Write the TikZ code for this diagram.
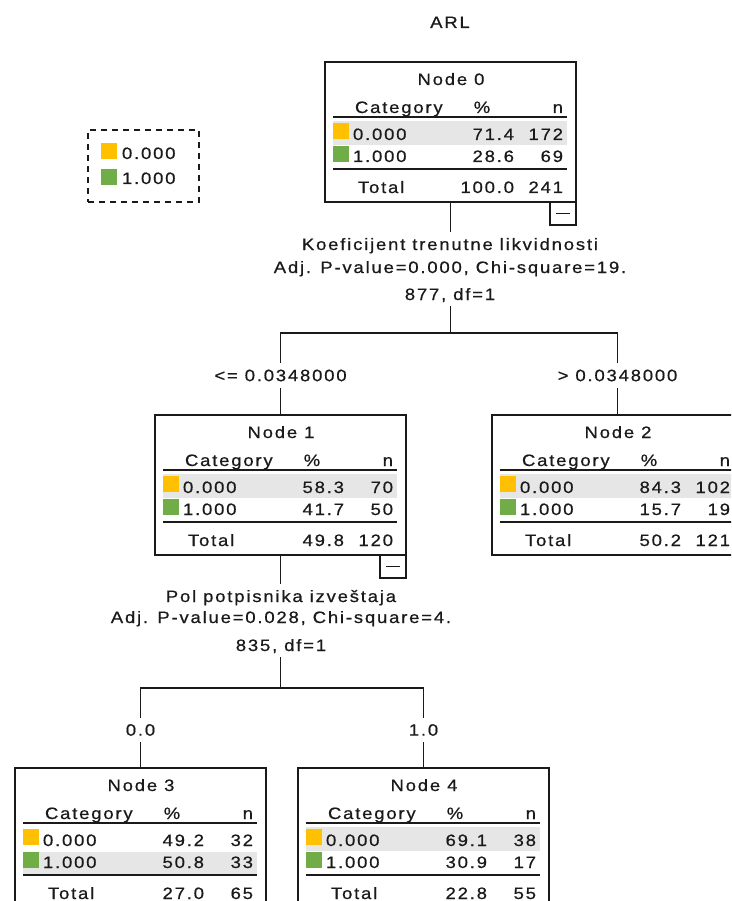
\documentclass[tikz,border=0pt]{standalone}
\usepackage{fontspec}
\setmainfont{Liberation Sans}[FakeStretch=1.12,LetterSpace=11,FakeBold=0.6]
\definecolor{catA}{HTML}{FFC000}
\definecolor{catB}{HTML}{70AD47}
\definecolor{bandgray}{HTML}{E6E6E6}
\definecolor{ink}{HTML}{1A1A1A}
\tikzset{
  txt/.style={inner sep=0pt, outer sep=0pt, font=\fontsize{16.5}{19}\selectfont, text=ink},
  tbox/.style={draw=ink, line width=1.7pt, inner sep=0pt, outer sep=0pt, minimum width=251pt, minimum height=140pt, anchor=north west},
  rule/.style={draw=ink, line width=2pt},
  edge/.style={draw=ink, line width=1.7pt},
  elabel/.style={txt, minimum height=25pt},
  minusbox/.style={draw=ink, line width=1.7pt, inner sep=0pt, outer sep=0pt, minimum width=26pt, minimum height=23pt, anchor=north east},
}
\newcommand{\bandrow}{1}
\newcommand{\cattable}[9]{%
  \begin{scope}[shift={(#2)}]
    \ifnum\bandrow=1 \fill[bandgray] (8,59) rectangle (242,83);
    \else \fill[bandgray] (8,84) rectangle (242,106); \fi
    \node[tbox] (#1) at (0,0) {};
    \node[txt, anchor=base] (#1-title) at (126,23) {#3};
    \node[txt, anchor=base west] (#1-cat) at (30,51) {Category};
    \node[txt, anchor=base] (#1-pct) at (157,51) {\%};
    \node[txt, anchor=base east] (#1-n) at (238,51) {n};
    \draw[rule] (8,55) -- (242,55);
    \fill[catA] (8,61) rectangle (24,77);
    \node[txt, anchor=base west] (#1-a) at (28,78) {0.000};
    \node[txt, anchor=base east] (#1-ap) at (189,78) {#4};
    \node[txt, anchor=base east] (#1-an) at (238,78) {#5};
    \fill[catB] (8,84) rectangle (24,100);
    \node[txt, anchor=base west] (#1-b) at (28,100) {1.000};
    \node[txt, anchor=base east] (#1-bp) at (189,100) {#6};
    \node[txt, anchor=base east] (#1-bn) at (238,100) {#7};
    \draw[rule] (8,107) -- (242,107);
    \node[txt, anchor=base west] (#1-tot) at (33,131) {Total};
    \node[txt, anchor=base east] (#1-tp) at (189,131) {#8};
    \node[txt, anchor=base east] (#1-tn) at (238,131) {#9};
  \end{scope}}
\newcommand{\collapse}[1]{%
  \node[minusbox] (#1-m) at (#1.south east) {};
  \draw[edge] ([xshift=-7pt]#1-m.center) -- ([xshift=7pt]#1-m.center);}
\begin{document}
\begin{tikzpicture}[x=1pt,y=-1pt]
\useasboundingbox (0,0) rectangle (731,901);
\fill[white] (0,0) rectangle (731,901);
\clip (0,0) rectangle (731,901);

\node[txt, anchor=base] (title) at (450,28) {ARL};

% legend
\node[draw=ink, dash pattern=on 6pt off 5pt, line width=1.5pt, inner sep=0pt, outer sep=0pt,
      minimum width=111pt, minimum height=72pt, anchor=north west] (legend) at (88,130) {};
\fill[catA] (101,143) rectangle (117,159);
\fill[catB] (101,169) rectangle (117,185);
\node[txt, anchor=base west] (legA) at (122,159) {0.000};
\node[txt, anchor=base west] (legB) at (122,184) {1.000};

% nodes
\cattable{n0}{325,62}{Node 0}{71.4}{172}{28.6}{69}{100.0}{241}
\collapse{n0}
\cattable{n1}{155,415}{Node 1}{58.3}{70}{41.7}{50}{49.8}{120}
\collapse{n1}
\cattable{n2}{492,415}{Node 2}{84.3}{102}{15.7}{19}{50.2}{121}
\renewcommand{\bandrow}{2}
\cattable{n3}{15,768}{Node 3}{49.2}{32}{50.8}{33}{27.0}{65}
\renewcommand{\bandrow}{1}
\cattable{n4}{298,768}{Node 4}{69.1}{38}{30.9}{17}{22.8}{55}

% split of node 0
\node[txt, anchor=base] (s0a) at (450,250) {Koeficijent trenutne likvidnosti};
\node[txt, anchor=base] (s0b) at (450,273) {Adj. P-value=0.000, Chi-square=19.};
\node[txt, anchor=base] (s0c) at (450,300) {877, df=1};
\coordinate (j0) at (450.5,333);
\draw[edge] (n0.south) -- ([yshift=6pt]s0a.north -| n0.south);
\draw[edge] ([yshift=-4pt]s0c.south -| n0.south) -- (j0);
\node[elabel] (e1) at (280.5,375.5) {<= 0.0348000};
\node[elabel] (e2) at (617.5,375.5) {> 0.0348000};
\draw[edge] (e1.north) |- (j0) -| (e2.north);
\draw[edge] (e1.south) -- (n1.north);
\draw[edge] (e2.south) -- (n2.north);

% split of node 1
\node[txt, anchor=base] (s1a) at (281,602) {Pol potpisnika izveštaja};
\node[txt, anchor=base] (s1b) at (281,623) {Adj. P-value=0.028, Chi-square=4.};
\node[txt, anchor=base] (s1c) at (281,651) {835, df=1};
\coordinate (j1) at (280.5,688);
\draw[edge] (n1.south) -- ([yshift=6pt]s1a.north -| n1.south);
\draw[edge] ([yshift=-4pt]s1c.south -| n1.south) -- (j1);
\node[elabel, minimum height=24pt] (e3) at (140.5,730) {0.0};
\node[elabel, minimum height=24pt] (e4) at (423.5,730) {1.0};
\draw[edge] (e3.north) |- (j1) -| (e4.north);
\draw[edge] (e3.south) -- (n3.north);
\draw[edge] (e4.south) -- (n4.north);
\end{tikzpicture}
\end{document}
